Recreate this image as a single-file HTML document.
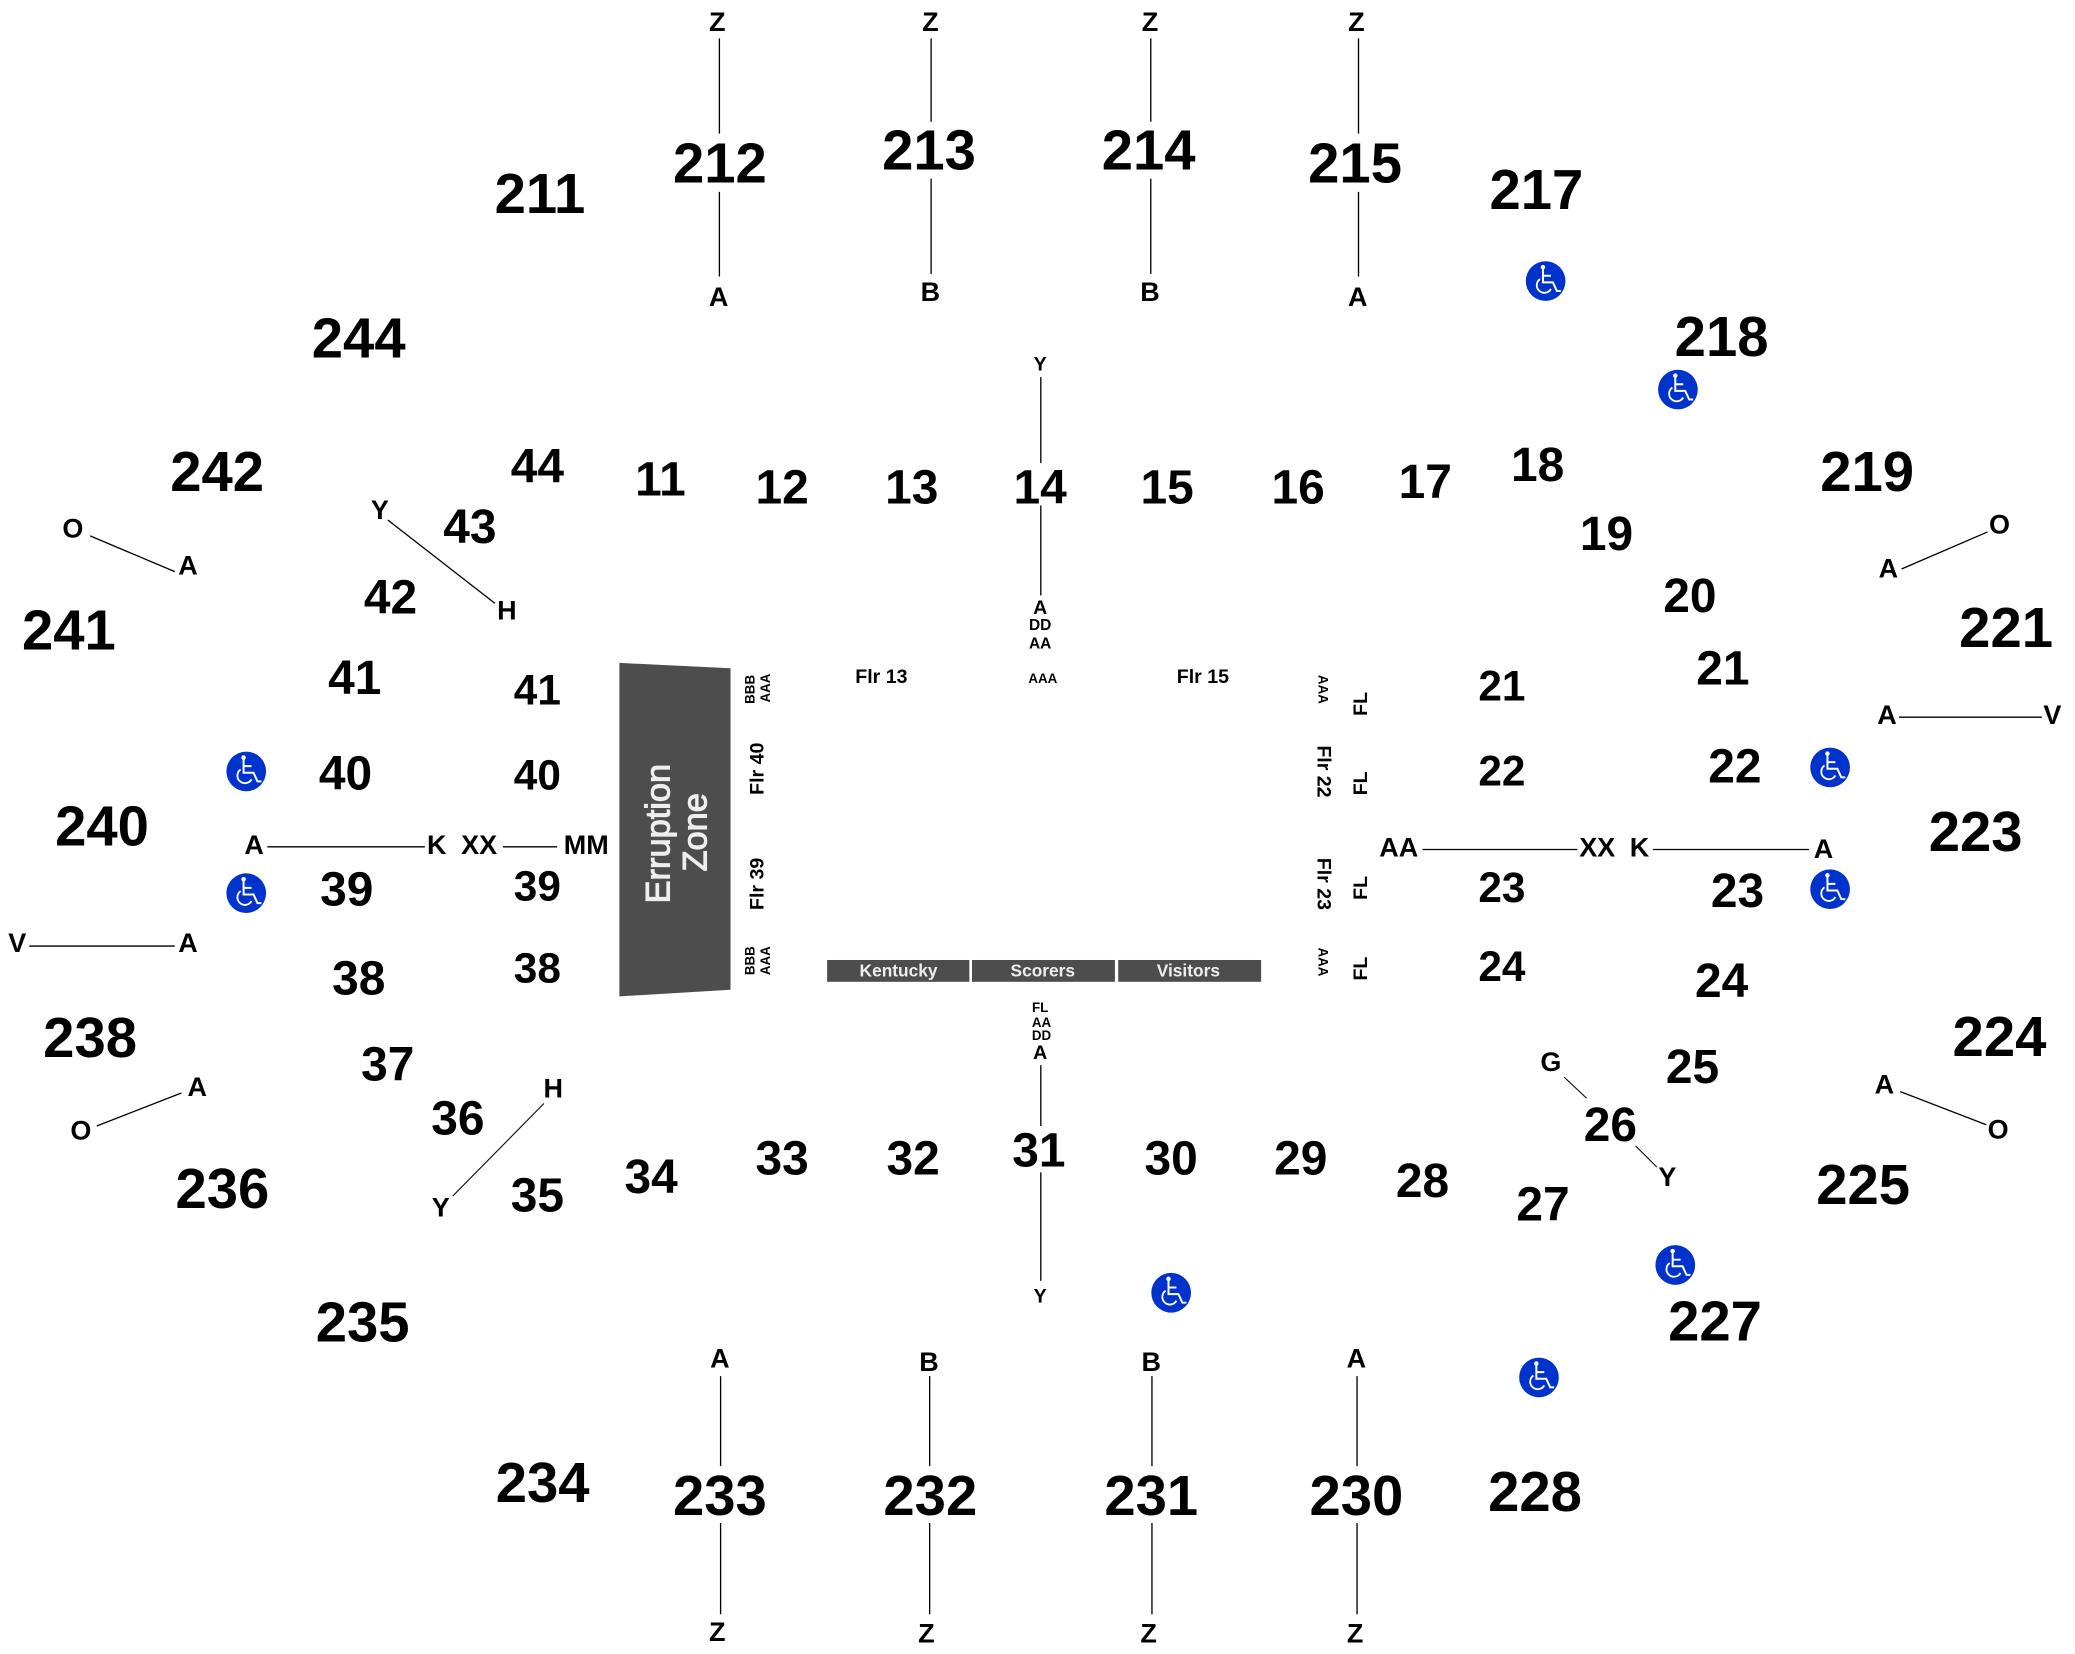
<!DOCTYPE html>
<html><head><meta charset="utf-8"><style>
html,body{margin:0;padding:0;background:#fff;width:2075px;height:1654px;overflow:hidden}
svg{display:block}
text{font-family:"Liberation Sans",Arial,sans-serif;font-weight:bold;text-anchor:middle;fill:#000}
.b{font-size:42.5px}.m{font-size:36.2px}.n{font-size:32px}.l{font-size:20.4px}.t{font-size:14.8px}.s{font-size:11.7px}.x{font-size:10.1px}
.w{fill:#eee;font-size:13.1px}
line{stroke:#000;stroke-width:1}
</style></head><body>
<svg xmlns="http://www.w3.org/2000/svg" width="2075" height="1654" viewBox="0 0 1568 1250">
<defs>
<g id="wc"><ellipse cx="0" cy="0" rx="15" ry="15" fill="#0033cc"/>
<circle cx="-2" cy="-10.5" r="1.7" fill="#fff"/>
<path d="M-2-9V1H5.5L8.5 7.5H11.5M-2-4H4" fill="none" stroke="#fff" stroke-width="1.5"/>
<path d="M-4.2-1.5A5.7 5.7 0 1 0 4 6" fill="none" stroke="#fff" stroke-width="1.4"/></g>
</defs>
<rect width="1568" height="1250" fill="#fff"/>

<polygon points="468,501 552,505 552,748 468,753" fill="#4d4d4d"/>
<rect x="625" y="725.5" width="107.5" height="16.5" fill="#4d4d4d"/>
<rect x="734.5" y="725.5" width="108" height="16.5" fill="#4d4d4d"/>
<rect x="845" y="725.5" width="108" height="16.5" fill="#4d4d4d"/>

<g>
<line x1="543.6" y1="29" x2="543.6" y2="101"/><line x1="543.6" y1="145" x2="543.6" y2="209"/>
<line x1="703.6" y1="29" x2="703.6" y2="92"/><line x1="703.6" y1="135" x2="703.6" y2="207"/>
<line x1="869.6" y1="29" x2="869.6" y2="92"/><line x1="869.6" y1="135" x2="869.6" y2="207"/>
<line x1="1026.6" y1="29" x2="1026.6" y2="101"/><line x1="1026.6" y1="145" x2="1026.6" y2="209"/>
<line x1="786.5" y1="285" x2="786.5" y2="350"/><line x1="786.5" y1="382" x2="786.5" y2="450"/>
<line x1="786.5" y1="805" x2="786.5" y2="851"/><line x1="786.5" y1="886" x2="786.5" y2="968"/>
<line x1="544.5" y1="1040" x2="544.5" y2="1108"/><line x1="544.5" y1="1151" x2="544.5" y2="1220"/>
<line x1="702.5" y1="1040" x2="702.5" y2="1108"/><line x1="702.5" y1="1151" x2="702.5" y2="1220"/>
<line x1="870.5" y1="1040" x2="870.5" y2="1108"/><line x1="870.5" y1="1151" x2="870.5" y2="1220"/>
<line x1="1025.5" y1="1040" x2="1025.5" y2="1108"/><line x1="1025.5" y1="1151" x2="1025.5" y2="1220"/>
<line x1="68" y1="405" x2="132" y2="432"/>
<line x1="293" y1="393" x2="374" y2="456"/>
<line x1="1437" y1="430" x2="1502" y2="402"/>
<line x1="1435" y1="542" x2="1543" y2="542"/>
<line x1="202" y1="640" x2="321" y2="640"/><line x1="380" y1="640" x2="421" y2="640"/>
<line x1="1075" y1="642" x2="1192" y2="642"/><line x1="1249" y1="642" x2="1367" y2="642"/>
<line x1="22" y1="715" x2="132" y2="715"/>
<line x1="73" y1="851" x2="137" y2="826"/>
<line x1="411" y1="834" x2="342" y2="904" style="stroke-width:.8"/>
<line x1="1182" y1="814" x2="1199" y2="830" style="stroke-width:.8"/>
<line x1="1236" y1="866" x2="1252" y2="882" style="stroke-width:.8"/>
<line x1="1436" y1="825" x2="1501" y2="850"/>
</g>

<g transform="translate(0,-1)">
<text class="b" x="544" y="139">212</text><text class="b" x="702" y="129">213</text><text class="b" x="868" y="129">214</text><text class="b" x="1024" y="139">215</text>
<text class="b" x="408" y="162">211</text><text class="b" x="1161" y="159">217</text><text class="b" x="1301" y="270">218</text><text class="b" x="271" y="271">244</text>
<text class="b" x="164" y="372">242</text><text class="b" x="1411" y="372">219</text><text class="b" x="52" y="492">241</text><text class="b" x="1516" y="490">221</text>
<text class="b" x="77" y="640">240</text><text class="b" x="1493" y="644">223</text><text class="b" x="68" y="800">238</text><text class="b" x="1511" y="799">224</text>
<text class="b" x="168" y="914">236</text><text class="b" x="1408" y="911">225</text><text class="b" x="274" y="1015">235</text><text class="b" x="1296" y="1014">227</text>
<text class="b" x="410" y="1136">234</text><text class="b" x="1160" y="1143">228</text><text class="b" x="544" y="1146">233</text><text class="b" x="703" y="1146">232</text>
<text class="b" x="870" y="1146">231</text><text class="b" x="1025" y="1146">230</text>
</g>

<g transform="translate(0,-.5)">
<text class="m" x="406" y="365">44</text><text class="m" x="499" y="375">11</text><text class="m" x="591" y="381">12</text><text class="m" x="689" y="381">13</text>
<text class="m" x="786" y="381">14</text><text class="m" x="882" y="381">15</text><text class="m" x="981" y="381">16</text><text class="m" x="1077" y="377">17</text>
<text class="m" x="1162" y="364">18</text><text class="m" x="1214" y="416">19</text><text class="m" x="1277" y="463">20</text><text class="m" x="1302" y="518">21</text>
<text class="m" x="355" y="411">43</text><text class="m" x="295" y="464">42</text><text class="m" x="268" y="525">41</text><text class="m" x="261" y="597">40</text>
<text class="m" x="1311" y="592">22</text><text class="m" x="262" y="685">39</text><text class="m" x="1313" y="686">23</text><text class="m" x="271" y="752">38</text>
<text class="m" x="1301" y="754">24</text><text class="m" x="293" y="817">37</text><text class="m" x="1279" y="819">25</text><text class="m" x="346" y="858">36</text>
<text class="m" x="1217" y="863">26</text><text class="m" x="406" y="916">35</text><text class="m" x="492" y="902">34</text><text class="m" x="591" y="888">33</text>
<text class="m" x="690" y="888">32</text><text class="m" x="785" y="882">31</text><text class="m" x="885" y="888">30</text><text class="m" x="983" y="888">29</text>
<text class="m" x="1075" y="905">28</text><text class="m" x="1166" y="923">27</text>

<text class="n" x="406" y="533">41</text><text class="n" x="406" y="597">40</text><text class="n" x="406" y="681">39</text><text class="n" x="406" y="743">38</text>
<text class="n" x="1135" y="530">21</text><text class="n" x="1135" y="594">22</text><text class="n" x="1135" y="682">23</text><text class="n" x="1135" y="742">24</text>
</g>

<g transform="translate(0,-.7)">
<text class="l" x="542" y="24">Z</text><text class="l" x="703" y="24">Z</text><text class="l" x="869" y="24">Z</text><text class="l" x="1025" y="24">Z</text>
<text class="l" x="543" y="232">A</text><text class="l" x="703" y="228">B</text><text class="l" x="869" y="228">B</text><text class="l" x="1026" y="232">A</text>
<text class="l" x="55" y="407">O</text><text class="l" x="142" y="435">A</text><text class="l" x="287" y="393">Y</text><text class="l" x="383" y="469">H</text>
<text class="l" x="1511" y="404">O</text><text class="l" x="1427" y="437">A</text><text class="l" x="1426" y="548">A</text><text class="l" x="1551" y="548">V</text>
<text class="l" x="192" y="646">A</text><text class="l" x="330" y="646">K</text><text class="l" x="362" y="646">XX</text><text class="l" x="443" y="646">MM</text>
<text class="l" x="1057" y="648">AA</text><text class="l" x="1207" y="648">XX</text><text class="l" x="1239" y="648">K</text><text class="l" x="1378" y="649">A</text>
<text class="l" x="13" y="720">V</text><text class="l" x="142" y="720">A</text><text class="l" x="149" y="829">A</text><text class="l" x="61" y="862">O</text>
<text class="l" x="418" y="830">H</text><text class="l" x="333" y="920">Y</text><text class="l" x="1172" y="810">G</text><text class="l" x="1260" y="897">Y</text>
<text class="l" x="1424" y="827">A</text><text class="l" x="1510" y="861">O</text>
<text class="l" x="544" y="1034">A</text><text class="l" x="702" y="1037">B</text><text class="l" x="870" y="1037">B</text><text class="l" x="1025" y="1034">A</text>
<text class="l" x="542" y="1241">Z</text><text class="l" x="700" y="1242">Z</text><text class="l" x="868" y="1242">Z</text><text class="l" x="1024" y="1242">Z</text>
</g>

<text class="t" x="786" y="280">Y</text><text class="t" x="786" y="464">A</text><text class="t" x="786" y="800.5">A</text><text class="t" x="786" y="984.5">Y</text>
<text class="s" x="786" y="476">DD</text><text class="s" x="786" y="490">AA</text>
<text class="x" x="788" y="516">AAA</text>
<text class="x" x="786" y="765">FL</text><text class="x" x="787" y="776">AA</text><text class="x" x="787" y="786">DD</text>
<text class="t" x="666" y="516">Flr 13</text><text class="t" x="909" y="516">Flr 15</text>

<text class="x" transform="translate(570,521) rotate(-90)">BBB</text>
<text class="x" transform="translate(582,520) rotate(-90)">AAA</text>
<text class="t" transform="translate(577,581) rotate(-90)">Flr 40</text>
<text class="t" transform="translate(577,668) rotate(-90)">Flr 39</text>
<text class="x" transform="translate(570,726) rotate(-90)">BBB</text>
<text class="x" transform="translate(582,726) rotate(-90)">AAA</text>
<text class="x" transform="translate(996.5,521) rotate(90)">AAA</text>
<text class="t" transform="translate(1033,532) rotate(-90)">FL</text>
<text class="t" transform="translate(995.5,583) rotate(90)">Flr 22</text>
<text class="t" transform="translate(1033,592) rotate(-90)">FL</text>
<text class="t" transform="translate(995.5,668) rotate(90)">Flr 23</text>
<text class="t" transform="translate(1033,671) rotate(-90)">FL</text>
<text class="x" transform="translate(996.5,727) rotate(90)">AAA</text>
<text class="t" transform="translate(1033,732) rotate(-90)">FL</text>

<text transform="translate(506,630) rotate(-90)" style="font-size:26px;font-weight:normal;fill:#eee;stroke:#eee;stroke-width:.8">Erruption</text>
<text transform="translate(534,629) rotate(-90)" style="font-size:26px;font-weight:normal;fill:#eee;stroke:#eee;stroke-width:.8">Zone</text>

<text class="w" x="679" y="738">Kentucky</text><text class="w" x="788" y="738">Scorers</text><text class="w" x="898" y="738">Visitors</text>

<use href="#wc" x="1168" y="212.4"/><use href="#wc" x="1268" y="294.4"/><use href="#wc" x="186" y="583"/><use href="#wc" x="186" y="675"/>
<use href="#wc" x="1383" y="580"/><use href="#wc" x="1383" y="672"/><use href="#wc" x="885" y="977"/><use href="#wc" x="1266" y="956"/><use href="#wc" x="1163" y="1041"/>
</svg>
</body></html>
